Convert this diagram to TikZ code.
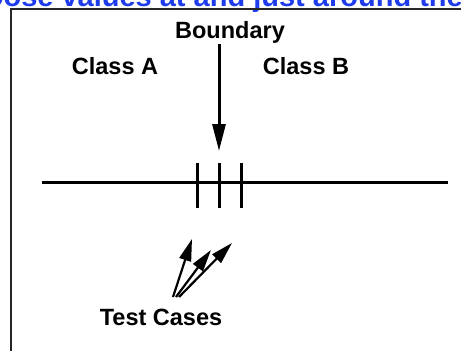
\documentclass[tikz,border=0pt]{standalone}
\usepackage{fontspec}
\setmainfont{Liberation Sans}
\usetikzlibrary{arrows.meta}
\definecolor{titleblue}{RGB}{30,60,235}
\begin{document}
\begin{tikzpicture}[x=1pt,y=-1pt,
  lbl/.style={font=\bfseries\fontsize{23.5}{28}\selectfont, inner sep=0pt, anchor=base},
  frameline/.style={draw=black!85, line width=1.3pt},
  axis/.style={line width=3pt},
  tick/.style={line width=3pt},
  bigarrow/.style={line width=3pt, -{Triangle[length=27pt,width=13pt]}},
  tcarrow/.style={line width=2.2pt, -{Triangle[length=22pt,width=12pt]}}]
\useasboundingbox (0,0) rectangle (461,351);
\clip (0,0) rectangle (461,351);
\fill[white] (0,0) rectangle (461,351);
% title fragment (cut off at top)
\node[font=\bfseries\fontsize{29}{34}\selectfont, text=titleblue, inner sep=0pt, anchor=base east] (title) at (463,6.5) {choose values at and just around the};
% frame
\draw[frameline] (11,360) -- (11,9) -- (470,9);
% labels
\node[lbl] (bnd) at (230,38) {Boundary};
\node[lbl] (ca) at (115,74) {Class A};
\node[lbl] (cb) at (306,74) {Class B};
\node[lbl] (tc) at (161,325) {Test Cases};
% axis
\coordinate (axL) at (42,182);
\coordinate (axR) at (448,182);
\draw[axis] (axL) -- (axR);
% ticks
\foreach \x/\n in {197/t1,219/t2,241/t3}{
  \coordinate (\n top) at (\x,163);
  \coordinate (\n bot) at (\x,208);
  \draw[tick] (\n top) -- (\n bot);
}
% boundary arrow
\coordinate (btip) at (219,151);
\draw[bigarrow] (219,44) -- (btip);
% test case arrows
\coordinate (s1) at (173,297);
\coordinate (s2) at (176,297);
\coordinate (s3) at (179,297);
\coordinate (e1) at (192,239);
\coordinate (e2) at (211,250);
\coordinate (e3) at (232,243);
\draw[tcarrow] (s1) -- (e1);
\draw[tcarrow] (s2) -- (e2);
\draw[tcarrow] (s3) -- (e3);
\end{tikzpicture}
\end{document}
